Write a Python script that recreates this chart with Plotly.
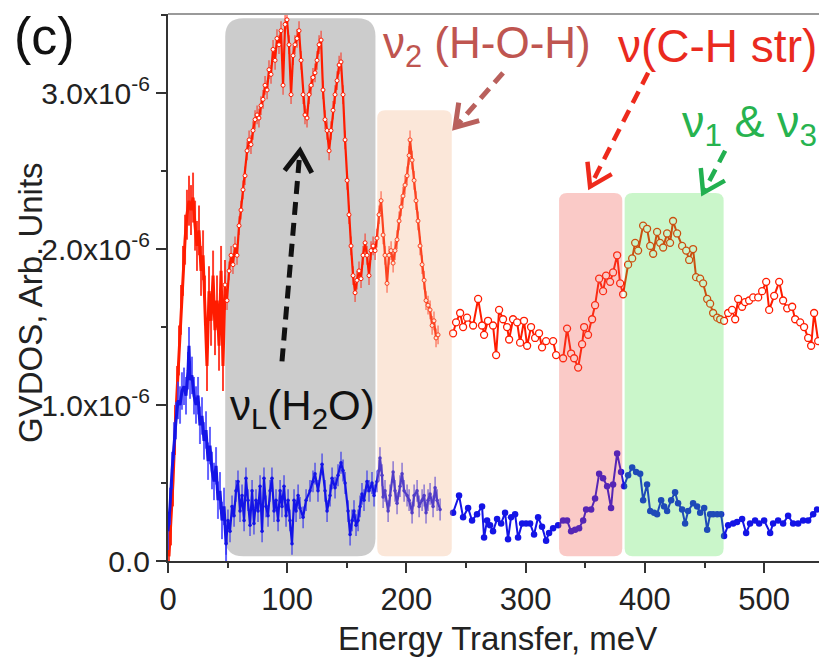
import math
import plotly.graph_objects as go

# ---------------- data (Energy transfer in meV, GVDOS in units of 1e-6) ----------------
# red spectrum, low-energy noisy section
red_low_x = [0.8,2.5,4.2,5.9,7.6,9.2,10.9,12.6,14.3,15.9,17.6,19.3,21.0,22.7,24.3,26.0,27.7,29.4,31.0,32.7,
             34.4,36.1,37.8,39.4,41.1,42.8,44.5,46.1,47.8]
red_low_y = [0.03,0.26,0.51,0.84,1.09,1.35,1.61,1.86,2.06,2.22,2.31,2.25,2.33,2.15,2.02,2.12,1.86,1.96,1.67,1.25,
             1.73,1.54,1.83,1.48,1.67,1.38,1.86,1.25,1.77]
# red spectrum, dense section
red_dense_x = [47.8,49.5,51.2,52.9,54.5,56.2,57.9,59.6,61.2,62.9,64.6,66.3,
               68.0,69.6,71.3,73.0,74.7,76.3,78.0,79.7,81.4,83.1,84.7,86.4,88.1,89.8,91.4,93.1,94.8,96.5,98.2,99.8,
               101.5,103.2,104.9,106.5,108.2,109.9,111.6,113.3,114.9,116.6,118.3,120.0,121.6,123.3,125.0,126.7,128.4,130.0,131.7,133.4,
               135.1,136.7,138.4,140.1,141.8,143.5,145.1,146.8,148.5,150.2,151.8,153.5,155.2,156.9,158.5,160.2,161.9,163.6,165.3,166.9,
               168.6,170.3,172.0,173.7,175.3,177.0,178.7,180.4,182.0,183.7,185.4,187.1,188.8,190.4,192.1,193.8,195.5,197.1,198.8,200.5,
               202.2,203.0,204.7,206.4,208.0,209.7,211.4,213.1,214.8,216.4,218.1,219.8,221.5,223.1,224.8,226.5]
red_dense_y = [1.77,1.67,1.86,1.96,1.90,2.02,1.96,2.15,2.25,2.38,2.47,2.63,
               2.70,2.67,2.76,2.83,2.86,2.84,2.92,2.96,3.05,3.02,3.15,3.12,3.28,3.21,3.35,3.31,3.40,3.05,3.44,3.47,
               3.31,2.99,3.24,3.31,3.35,3.40,3.21,2.99,2.86,2.84,2.99,3.05,3.10,3.13,3.21,3.31,3.34,3.02,2.83,2.76,
               2.63,2.76,2.89,2.99,3.08,3.18,3.20,2.99,2.70,2.44,2.22,2.02,1.83,1.72,1.80,1.86,1.81,1.96,2.04,1.96,
               1.83,1.99,2.02,1.99,2.07,2.22,2.31,2.09,1.96,1.78,1.96,1.99,1.91,1.99,2.06,2.18,2.27,2.34,2.41,2.47,
               2.60,2.70,2.57,2.44,2.31,2.18,2.02,1.90,1.80,1.67,1.64,1.61,1.51,1.54,1.43,1.45]
# red spectrum, coarse section
red_x = [239.1,241.6,245.0,247.5,250.8,255.9,260.1,263.4,265.1,268.4,272.6,275.2,277.7,281.0,284.4,286.1,289.4,292.8,295.3,298.6,
         301.2,304.5,307.9,311.2,313.7,317.1,323.0,325.5,331.4,334.7,338.1,340.6,344.0,347.3,349.0,352.3,355.7,358.2,361.6,364.9,
         367.4,370.8,373.3,376.7,379.2,381.7,385.9,389.3,391.8,394.3,398.5,401.8,404.4,406.9,410.2,412.7,415.3,418.6,421.1,423.6,
         427.0,431.2,434.6,437.1,440.4,442.9,446.3,448.8,452.2,454.7,457.2,460.6,463.1,466.4,469.8,473.1,475.7,478.2,481.5,484.0,
         487.4,490.8,495.0,498.3,501.7,504.2,508.4,512.6,515.9,519.3,523.5,526.0,530.2,533.5,536.9,539.4,541.9,545.3]
red_y = [1.46,1.53,1.59,1.50,1.56,1.51,1.68,1.51,1.45,1.54,1.51,1.32,1.61,1.55,1.50,1.42,1.55,1.53,1.40,1.54,
         1.38,1.50,1.43,1.46,1.37,1.41,1.41,1.32,1.30,1.49,1.33,1.30,1.24,1.39,1.50,1.45,1.55,1.64,1.81,1.73,
         1.83,1.79,1.85,1.96,1.78,1.71,1.90,1.94,2.04,1.99,2.15,2.13,2.02,1.97,2.11,2.04,2.01,2.10,2.04,2.18,
         2.10,2.02,1.99,1.93,2.00,1.82,1.81,1.78,1.68,1.65,1.59,1.56,1.55,1.54,1.59,1.61,1.55,1.68,1.63,1.66,
         1.67,1.69,1.69,1.73,1.79,1.61,1.70,1.79,1.67,1.62,1.63,1.55,1.53,1.50,1.43,1.38,1.59,1.41]

# blue spectrum, low-energy noisy section
blue_low_x = [0.0,1.7,3.4,5.0,6.7,8.4,10.1,11.7,13.4,15.1,16.8,17.6,18.5,20.1,21.8,23.5,25.2,26.8,28.5,30.2,
              31.9,33.6,35.2,36.9,38.6,40.3,41.9,43.6,45.3,47.0,48.7]
blue_low_y = [0.19,0.35,0.58,0.77,0.90,1.03,1.00,1.09,1.12,1.06,1.22,1.38,1.16,1.19,1.06,1.00,1.06,0.87,0.93,0.77,
              0.84,0.64,0.74,0.58,0.51,0.61,0.39,0.45,0.26,0.35,0.11]
# blue spectrum, dense section
blue_dense_x = [48.7,50.3,52.0,53.7,55.4,57.0,58.7,60.4,62.1,63.8,
                65.4,67.1,68.8,70.5,72.1,73.8,75.5,77.2,78.9,80.5,82.2,83.9,85.6,87.2,88.9,90.6,92.3,94.0,95.6,97.3,
                99.0,100.7,102.3,104.0,105.7,107.4,109.1,110.7,113.3,115.8,119.1,121.6,123.3,125.8,129.2,131.7,133.4,135.9,137.6,140.1,
                142.6,145.1,146.8,148.5,151.0,152.7,154.4,156.0,157.7,159.4,161.1,162.7,164.4,166.9,168.6,171.1,172.8,175.3,177.0,177.8,
                179.5,180.4,182.0,184.6,186.2,188.8,190.4,192.1,194.6,196.3,198.0,200.5,202.2,204.7,206.4,208.9,210.6,213.1,214.8,216.4,
                218.1,219.8,222.3,224.0,225.7,228.2]
blue_dense_y = [0.11,0.26,0.19,0.35,0.29,0.45,0.51,0.32,0.42,0.26,
                0.53,0.39,0.23,0.45,0.24,0.39,0.32,0.48,0.19,0.53,0.35,0.29,0.45,0.53,0.32,0.39,0.26,0.45,0.35,0.48,
                0.29,0.39,0.26,0.11,0.39,0.32,0.42,0.34,0.28,0.39,0.45,0.51,0.56,0.45,0.62,0.45,0.32,0.42,0.53,0.47,
                0.55,0.63,0.58,0.50,0.32,0.17,0.26,0.32,0.23,0.26,0.35,0.43,0.39,0.51,0.45,0.50,0.42,0.51,0.58,0.66,
                0.55,0.41,0.45,0.32,0.42,0.57,0.45,0.37,0.48,0.56,0.45,0.42,0.39,0.31,0.42,0.45,0.35,0.39,0.42,0.31,
                0.39,0.43,0.35,0.47,0.39,0.33]
# blue spectrum, coarse section
blue_x = [239.1,244.1,247.5,251.7,255.0,259.2,263.4,265.1,267.6,270.1,272.6,276.0,279.4,282.7,285.2,287.7,291.1,293.6,297.0,300.3,
          303.7,307.0,310.4,313.7,317.1,319.6,323.0,327.2,331.4,334.7,338.1,341.4,344.8,348.2,350.7,354.9,358.2,361.6,364.9,368.3,
          371.6,373.3,376.7,380.0,382.5,385.9,389.3,392.6,396.0,398.5,401.8,404.4,407.7,410.2,413.6,416.1,418.6,422.0,425.3,427.8,
          431.2,433.7,436.2,440.4,443.8,446.3,449.7,452.2,454.7,457.2,460.6,463.9,466.4,469.8,474.0,477.3,481.5,484.9,488.2,492.4,
          495.8,500.0,505.0,507.5,511.7,515.9,520.1,524.3,528.5,532.7,536.9,541.1,544.4]
blue_y = [0.31,0.42,0.28,0.34,0.26,0.30,0.35,0.15,0.26,0.23,0.19,0.27,0.24,0.31,0.14,0.28,0.30,0.15,0.24,0.24,
          0.24,0.17,0.28,0.22,0.13,0.18,0.21,0.23,0.26,0.26,0.19,0.20,0.21,0.26,0.33,0.33,0.40,0.56,0.53,0.48,
          0.34,0.49,0.69,0.57,0.48,0.55,0.60,0.57,0.56,0.39,0.49,0.32,0.31,0.30,0.39,0.35,0.32,0.39,0.44,0.37,
          0.33,0.24,0.32,0.37,0.35,0.31,0.34,0.20,0.30,0.30,0.30,0.30,0.16,0.23,0.24,0.25,0.27,0.18,0.24,0.26,
          0.24,0.26,0.18,0.24,0.26,0.24,0.29,0.24,0.24,0.26,0.26,0.30,0.33]

x_ticks = [0, 100, 200, 300, 400, 500]
y_ticks = [0, 1, 2, 3]
y_ticktext = ["0.0", "1.0x10<sup>-6</sup>", "2.0x10<sup>-6</sup>", "3.0x10<sup>-6</sup>"]
x_range = [0, 546]
y_range = [0, 3.507]

# highlighted regions: (x0, x1, y0, y1, fill, corner radius px, layer)
bands = [
    (48, 174, 0.03, 3.48, "rgb(204,204,204)", 18, "below"),
    (175.5, 238, 0.03, 2.89, "rgba(240,170,120,0.28)", 8, "above"),
    (328, 381, 0.03, 2.36, "rgba(240,80,70,0.30)", 8, "above"),
    (383, 466, 0.03, 2.36, "rgba(60,220,60,0.27)", 8, "above"),
]

# dashed arrows: (tail, tip, colour, width)
arrows = [
    ((95.6, 1.28), (110.7, 2.63), "#111111", 5),
    ((281.0, 3.13), (240.8, 2.78), "#b9605c", 5),
    ((402.7, 3.13), (354.0, 2.40), "#ee2a1c", 4.5),
    ((467.3, 2.63), (448.8, 2.36), "#22b050", 4.5),
]

FONT = "Liberation Sans, Arial, sans-serif"
W, H = 819, 657
L, T, R, B = 168, 14, 0, 96
PW, PH = W - L - R, H - T - B
kx = PW / (x_range[1] - x_range[0])
ky = PH / (y_range[1] - y_range[0])

fig = go.Figure()

RED = "#ff1c00"
BLUE = "#1414e6"

fig.add_trace(go.Scatter(
    x=red_low_x, y=red_low_y, mode="lines",
    line=dict(color=RED, width=3),
    error_y=dict(type="constant", value=0.16, color="rgba(255,30,10,0.85)", thickness=2, width=0),
    showlegend=False))
fig.add_trace(go.Scatter(
    x=red_dense_x, y=red_dense_y, mode="lines+markers",
    line=dict(color=RED, width=2.2),
    marker=dict(size=4, color="white", line=dict(color=RED, width=1)),
    error_y=dict(type="constant", value=0.06, color="rgba(255,40,20,0.8)", thickness=1.2, width=0),
    showlegend=False))
fig.add_trace(go.Scatter(
    x=red_x, y=red_y, mode="lines+markers",
    line=dict(color=RED, width=2),
    marker=dict(size=7, color="white", line=dict(color=RED, width=1.3)),
    showlegend=False))
fig.add_trace(go.Scatter(
    x=blue_low_x, y=blue_low_y, mode="lines",
    line=dict(color=BLUE, width=3),
    error_y=dict(type="constant", value=0.12, color="rgba(60,60,255,0.8)", thickness=2, width=0),
    showlegend=False))
fig.add_trace(go.Scatter(
    x=blue_dense_x, y=blue_dense_y, mode="lines+markers",
    line=dict(color=BLUE, width=2.2),
    marker=dict(size=3.5, color=BLUE),
    error_y=dict(type="constant", value=0.07, color="rgba(30,30,240,0.85)", thickness=1.2, width=0),
    showlegend=False))
fig.add_trace(go.Scatter(
    x=blue_x, y=blue_y, mode="lines+markers",
    line=dict(color=BLUE, width=2),
    marker=dict(size=6.5, color=BLUE),
    showlegend=False))


def rounded_rect(x0, x1, y0, y1, rpx):
    rx, ry = rpx / kx, rpx / ky
    p = [f"M {x0 + rx},{y0}", f"L {x1 - rx},{y0}", f"Q {x1},{y0} {x1},{y0 + ry}",
         f"L {x1},{y1 - ry}", f"Q {x1},{y1} {x1 - rx},{y1}", f"L {x0 + rx},{y1}",
         f"Q {x0},{y1} {x0},{y1 - ry}", f"L {x0},{y0 + ry}", f"Q {x0},{y0} {x0 + rx},{y0}", "Z"]
    return " ".join(p)


shapes = []
for x0, x1, y0, y1, col, r, lay in bands:
    shapes.append(dict(type="path", path=rounded_rect(x0, x1, y0, y1, r), xref="x", yref="y",
                       fillcolor=col, line=dict(width=0), layer=lay))

for (tx, ty), (hx, hy), col, lw in arrows:
    shapes.append(dict(type="line", x0=tx, y0=ty, x1=hx, y1=hy, xref="x", yref="y",
                       line=dict(color=col, width=lw, dash="13px,8px"), layer="above"))
    dx, dy = (hx - tx) * kx, (hy - ty) * ky
    n = math.hypot(dx, dy)
    ux, uy = -dx / n, -dy / n
    arm = 25
    pts = []
    for a in (math.radians(33), -math.radians(33)):
        ax = ux * math.cos(a) - uy * math.sin(a)
        ay = ux * math.sin(a) + uy * math.cos(a)
        pts.append((hx + ax * arm / kx, hy + ay * arm / ky))
    shapes.append(dict(type="path", xref="x", yref="y",
                       path=f"M {pts[0][0]},{pts[0][1]} L {hx},{hy} L {pts[1][0]},{pts[1][1]}",
                       line=dict(color=col, width=lw), layer="above"))

# top frame line
shapes.append(dict(type="line", xref="paper", yref="paper", x0=0, x1=1, y0=1, y1=1,
                   line=dict(color="#9a9a9a", width=2)))

annotations = [
    dict(text="(c)", xref="paper", yref="paper", x=-0.240, y=0.960, xanchor="left", yanchor="middle",
         showarrow=False, font=dict(size=52, color="#111111", family=FONT)),
    dict(text="ν<sub>L</sub>(H<sub>2</sub>O)", xref="x", yref="y", x=112.4, y=0.98,
         xanchor="center", yanchor="middle", showarrow=False,
         font=dict(size=42, color="#111111", family=FONT)),
    dict(text="ν<sub>2</sub> (H-O-H)", xref="x", yref="y", x=178.5, y=3.30,
         xanchor="left", yanchor="middle", showarrow=False,
         font=dict(size=44, color="#bf5550", family=FONT)),
    dict(text="ν(C-H str)", xref="x", yref="y", x=375.5, y=3.30,
         xanchor="left", yanchor="middle", showarrow=False,
         font=dict(size=46, color="#ea2a1e", family=FONT)),
    dict(text="ν<sub>1</sub> & ν<sub>3</sub>", xref="x", yref="y", x=429.5, y=2.80,
         xanchor="left", yanchor="middle", showarrow=False,
         font=dict(size=45, color="#27b34f", family=FONT)),
    dict(text="GVDOS, Arb. Units", xref="paper", yref="paper", x=(30 - L) / PW, y=(561 - 303) / PH,
         xanchor="center", yanchor="middle", textangle=-90, showarrow=False,
         font=dict(size=33, color="#222222", family=FONT)),
    dict(text="Energy Transfer, meV", xref="paper", yref="paper", x=(497 - L) / PW, y=(561 - 638) / PH,
         xanchor="center", yanchor="middle", showarrow=False,
         font=dict(size=33, color="#222222", family=FONT)),
]

fig.update_layout(
    width=W, height=H,
    margin=dict(l=L, r=R, t=T, b=B),
    paper_bgcolor="white", plot_bgcolor="white",
    font=dict(family=FONT, color="#222222"),
    shapes=shapes, annotations=annotations,
    xaxis=dict(range=x_range, tickvals=x_ticks, ticks="outside", ticklen=10, tickwidth=2,
               tickcolor="#333333", showline=True, linecolor="#333333", linewidth=2,
               showgrid=False, zeroline=False, tickfont=dict(size=31, color="#222222"),
               minor=dict(tickvals=[50, 150, 250, 350, 450], ticks="outside", ticklen=5,
                          tickwidth=2, tickcolor="#333333")),
    yaxis=dict(range=y_range, tickvals=y_ticks, ticktext=y_ticktext, ticks="outside", ticklen=10,
               tickwidth=2, tickcolor="#333333", showline=True, linecolor="#333333", linewidth=2,
               showgrid=False, zeroline=False, tickfont=dict(size=30, color="#222222"),
               minor=dict(tickvals=[0.5, 1.5, 2.5, 3.5], ticks="outside", ticklen=5,
                          tickwidth=2, tickcolor="#333333")),
)

fig.write_html("out.html")
